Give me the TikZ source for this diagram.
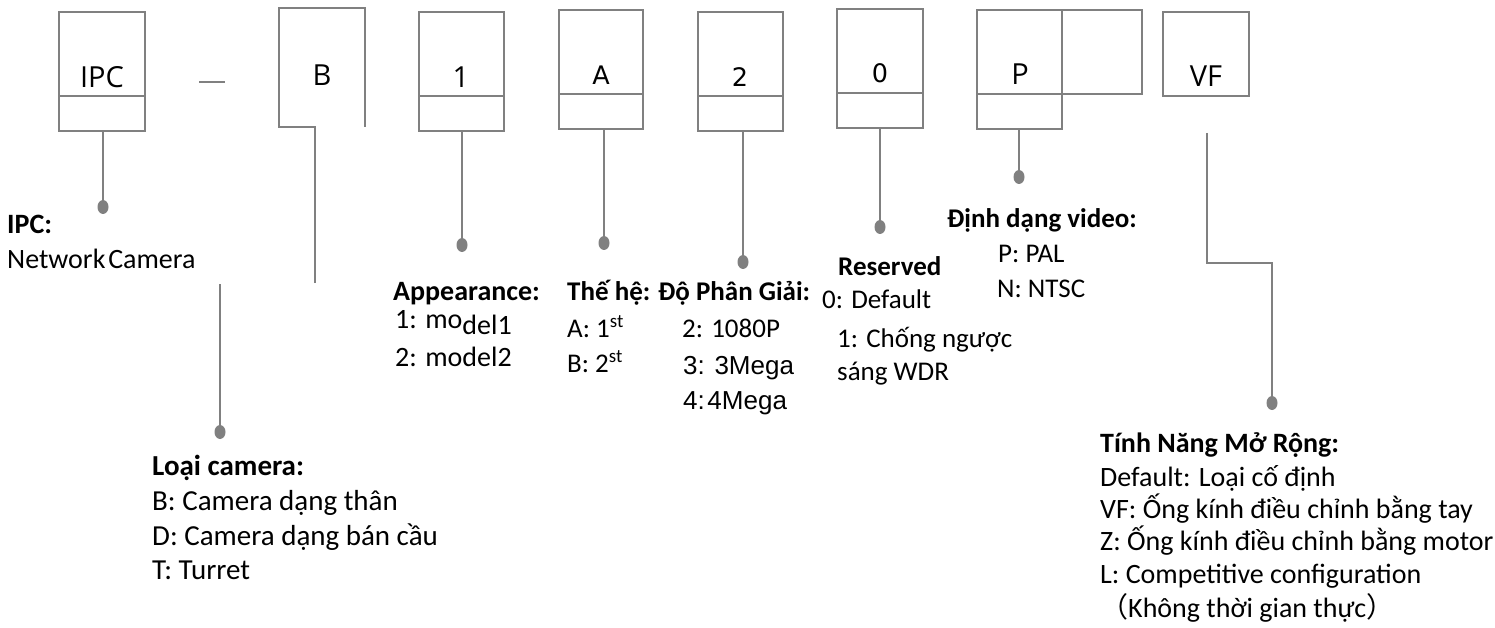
\documentclass[tikz,border=0pt]{standalone}
\usepackage{fontspec}
\setmainfont{Carlito}
\newfontfamily\arialf{Liberation Sans}
\newfontfamily\boxf{Open Sans}
\newfontfamily\dejaf{DejaVu Sans}
\newfontfamily\cjkf{Noto Sans CJK SC}
\usetikzlibrary{shapes.geometric}
\definecolor{lg}{HTML}{808080}
\begin{document}
\begin{tikzpicture}[x=1pt,y=-1pt,
  ln/.style={draw=lg, line width=1.5pt},
  bx/.style={draw=lg, line width=1.5pt, inner sep=0pt, outer sep=0pt},
  dot/.style={ellipse, fill=lg, minimum width=11pt, minimum height=14pt, inner sep=0pt, outer sep=0pt},
  lbl/.style={anchor=base west, inner sep=0pt, font=\fontsize{27}{30}\selectfont},
  hd/.style={anchor=base west, inner sep=0pt, font=\fontsize{27}{30}\selectfont\bfseries},
  lblL/.style={anchor=base west, inner sep=0pt, font=\fontsize{29}{30}\selectfont},
  hdL/.style={anchor=base west, inner sep=0pt, font=\fontsize{29}{30}\selectfont\bfseries},
  lblM/.style={anchor=base west, inner sep=0pt, font=\fontsize{28}{30}\selectfont},
  hdM/.style={anchor=base west, inner sep=0pt, font=\fontsize{28}{30}\selectfont\bfseries},
  lblA/.style={anchor=base west, inner sep=0pt, font=\fontsize{26}{28}\selectfont\arialf},
  bl/.style={anchor=base, inner sep=0pt, font=\fontsize{29}{30}\selectfont\boxf},
  bd/.style={anchor=base, inner sep=0pt, font=\fontsize{25.5}{28}\selectfont\dejaf}]
\useasboundingbox (0,0) rectangle (1495,628);

% ---- code boxes ----
\node[bx, minimum width=86pt, minimum height=119pt] (nIPC) at (102,71.5) {};
\draw[ln] (nIPC.west |- 0,96) -- (nIPC.east |- 0,96);
\node[bl] (tIPC) at (102,88) {IPC};

\draw[lg, line width=1.2pt] (199,82) -- (225,82);

\coordinate (bB) at (315,283);
\draw[ln] (bB) -- (315,127) -- (279,127) -- (279,8) -- (365,8) -- (365,127);
\node[bl] (tB) at (322,86) {B};

\node[bx, minimum width=85pt, minimum height=119pt] (n1) at (461.5,71.5) {};
\draw[ln] (n1.west |- 0,96) -- (n1.east |- 0,96);
\node[bl] (t1) at (461,88) {1};

\node[bx, minimum width=84pt, minimum height=119pt] (nA) at (601,69.5) {};
\draw[ln] (nA.west |- 0,94) -- (nA.east |- 0,94);
\node[bd] (tA) at (601,85) {A};

\node[bx, minimum width=85pt, minimum height=119pt] (n2) at (740.5,71.5) {};
\draw[ln] (n2.west |- 0,96) -- (n2.east |- 0,96);
\node[bd] (t2) at (740,87) {2};

\node[bx, minimum width=86pt, minimum height=119pt] (n0) at (880,68.5) {};
\draw[ln] (n0.west |- 0,93) -- (n0.east |- 0,93);
\node[bd] (t0) at (880,83) {0};

\node[bx, minimum width=85pt, minimum height=119pt] (nP) at (1019.5,69.5) {};
\draw[ln] (nP.west |- 0,94) -- (nP.east |- 0,94);
\node[bx, minimum width=80pt, minimum height=84pt] (nX) at (1102,52) {};
\node[bl] (tP) at (1020,85) {P};

\node[bx, minimum width=86pt, minimum height=84pt] (nVF) at (1206,54) {};
\node[bl] (tVF) at (1206,87) {VF};

% ---- dots ----
\node[dot] (dIPC) at (103,207) {};
\node[dot] (dL) at (220,432) {};
\node[dot] (d1) at (462,245) {};
\node[dot] (dA) at (604,243) {};
\node[dot] (d2) at (743,262) {};
\node[dot] (d0) at (880,227) {};
\node[dot] (dP) at (1019,177) {};
\node[dot] (dVF) at (1272,403) {};

% ---- connectors ----
\draw[ln] (dIPC |- nIPC.south) -- (dIPC.center);
\coordinate (cL) at (220,284);
\draw[ln] (cL) -- (dL.center);
\draw[ln] (d1 |- n1.south) -- (d1.center);
\draw[ln] (dA |- nA.south) -- (dA.center);
\draw[ln] (d2 |- n2.south) -- (d2.center);
\draw[ln] (d0 |- n0.south) -- (d0.center);
\draw[ln] (dP |- nP.south) -- (dP.center);
\coordinate (cVF) at (1207,133);
\draw[ln] (cVF) -- (1207,263) -| (dVF.center);

% ---- labels ----
\node[hdM] (hIPC) at (7,234) {IPC:};
\node[lblM] (l1) at (7,268) {Network\hspace{0.1em}Camera};

\node[hdL] (hL) at (152,475) {Loại camera:};
\node[lblL] (l2) at (152,510) {B: Camera dạng thân};
\node[lblL] (l3) at (152,545) {D: Camera dạng bán cầu};
\node[lblL] (l4) at (152,579) {T: Turret};

\node[hdM] (hAp) at (393,300) {Appearance:};
\node[lblM] (l5) at (395,328) {1: mo\raisebox{-6pt}{del1}};
\node[lblM] (l6) at (395,366) {2: model2};

\node[hd] (hTh) at (567,300) {Thế hệ:};
\node[lbl] (l7) at (567,337) {A: 1\textsuperscript{st}};
\node[lbl] (l8) at (567,372) {B: 2\textsuperscript{st}};

\node[hd] (hDo) at (658,300) {Độ Phân Giải:};
\node[lbl] (l9) at (682,337) {2: 1080P};
\node[lblA] (l10) at (683,374) {3: 3Mega};
\node[lblA] (l11) at (683,409) {4:\hspace{0.1em}4Mega};

\node[hd] (hRe) at (838,275) {Reserved};
\node[lbl] (l12) at (822,308) {0: Default};
\node[lbl] (l13) at (837,347) {1: Chống ngược};
\node[lbl] (l14) at (837,380) {sáng WDR};

\node[hd] (hDi) at (947,228) {Định dạng video:};
\node[lbl] (l15) at (998,262) {P: PAL};
\node[lbl] (l16) at (997,297) {N: NTSC};

\node[hdM] (hTi) at (1100,452) {Tính Năng Mở Rộng:};
\node[lblM] (l17) at (1100,486) {Default: Loại cố định};
\node[lblM] (l18) at (1100,518) {VF: Ống kính điều chỉnh bằng tay};
\node[lblM] (l19) at (1100,550) {Z: Ống kính điều chỉnh bằng motor};
\node[lblM] (l20) at (1100,583) {L: Competitive configuration};
\node[lblM] (l21) at (1100,617) {{\cjkf （}Không thời gian thực{\cjkf ）}};
\end{tikzpicture}
\end{document}
